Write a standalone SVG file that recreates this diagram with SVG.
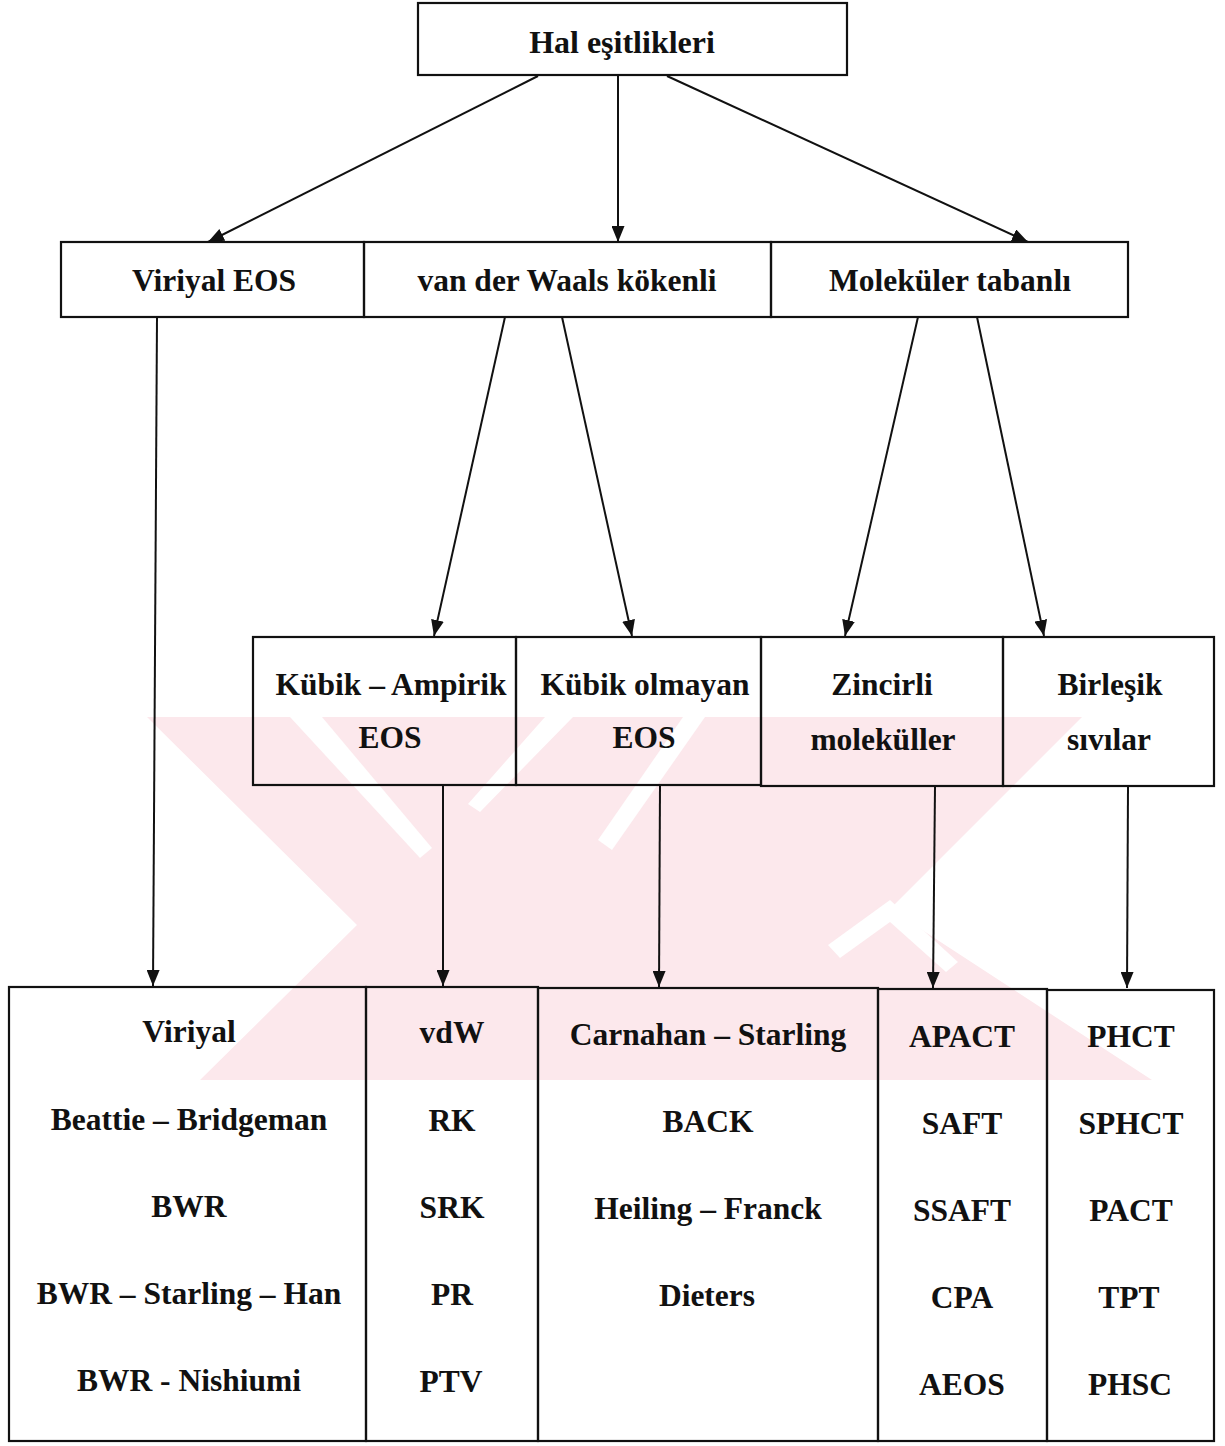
<svg xmlns="http://www.w3.org/2000/svg" width="1225" height="1446" viewBox="0 0 1225 1446">
<style>
.box{fill:none;stroke:#111;stroke-width:2.2}
.t{font-family:"Liberation Serif","Times New Roman",serif;font-weight:bold;font-size:31.5px;fill:#111;text-anchor:middle}
.c{fill:none;stroke:#111;stroke-width:2}
.wm{fill:#fce8ec}
.ws{fill:#ffffff}
</style>
<defs>
<marker id="ah" markerUnits="userSpaceOnUse" markerWidth="16" markerHeight="13" refX="16" refY="6.5" orient="auto">
<path d="M0,0 L16,6.5 L0,13 Z" fill="#111"/>
</marker>
</defs>
<rect width="1225" height="1446" fill="#ffffff"/>
<g id="watermark">
<path class="wm" d="M147,717 L1082,717 L890,909 L1152,1080 L200,1080 L357,925 Z"/>
<path class="ws" d="M290,717 L322,717 L432,848 L420,858 Z"/>
<path class="ws" d="M545,717 L573,717 L480,812 L468,804 Z"/>
<path class="ws" d="M683,717 L705,717 L612,850 L598,840 Z"/>
<path class="ws" d="M828,945 L890,900 L958,962 L946,972 L890,922 L840,958 Z"/>
</g>
<g id="connectors">
<line class="c" x1="538" y1="76" x2="208" y2="242" marker-end="url(#ah)"/>
<line class="c" x1="618" y1="76" x2="618" y2="242" marker-end="url(#ah)"/>
<line class="c" x1="667" y1="76" x2="1028" y2="242" marker-end="url(#ah)"/>
<line class="c" x1="157" y1="317" x2="153" y2="986" marker-end="url(#ah)"/>
<line class="c" x1="505" y1="317" x2="434" y2="636" marker-end="url(#ah)"/>
<line class="c" x1="562" y1="317" x2="632" y2="636" marker-end="url(#ah)"/>
<line class="c" x1="918" y1="317" x2="845" y2="636" marker-end="url(#ah)"/>
<line class="c" x1="977" y1="317" x2="1044" y2="636" marker-end="url(#ah)"/>
<line class="c" x1="443" y1="785" x2="443" y2="986" marker-end="url(#ah)"/>
<line class="c" x1="660" y1="785" x2="659" y2="987" marker-end="url(#ah)"/>
<line class="c" x1="935" y1="787" x2="933" y2="988" marker-end="url(#ah)"/>
<line class="c" x1="1128" y1="787" x2="1127" y2="988" marker-end="url(#ah)"/>
</g>
<g id="hal">
<rect class="box" x="418" y="3" width="429" height="72"/>
<text class="t" x="622" y="53" style="font-size:32px">Hal eşitlikleri</text>
</g>
<g id="viriyal-eos">
<rect class="box" x="61" y="242" width="303" height="75"/>
<text class="t" x="214" y="291">Viriyal EOS</text>
</g>
<g id="vdw-kokenli">
<rect class="box" x="364" y="242" width="407" height="75"/>
<text class="t" x="567" y="291">van der Waals kökenli</text>
</g>
<g id="molekuler">
<rect class="box" x="771" y="242" width="357" height="75"/>
<text class="t" x="950" y="291">Moleküler tabanlı</text>
</g>
<g id="kubik-ampirik">
<rect class="box" x="253" y="637" width="263" height="148"/>
<text class="t" x="391" y="695">Kübik – Ampirik</text>
<text class="t" x="390" y="748">EOS</text>
</g>
<g id="kubik-olmayan">
<rect class="box" x="516" y="637" width="245" height="148"/>
<text class="t" x="645" y="695">Kübik olmayan</text>
<text class="t" x="644" y="748">EOS</text>
</g>
<g id="zincirli">
<rect class="box" x="761" y="637" width="242" height="149"/>
<text class="t" x="882" y="695">Zincirli</text>
<text class="t" x="883" y="750">moleküller</text>
</g>
<g id="birlesik">
<rect class="box" x="1003" y="637" width="211" height="149"/>
<text class="t" x="1110" y="695">Birleşik</text>
<text class="t" x="1109" y="750">sıvılar</text>
</g>
<g id="col-viriyal">
<rect class="box" x="9" y="987" width="357" height="454"/>
<text class="t" x="189" y="1042">Viriyal</text>
<text class="t" x="189" y="1130">Beattie – Bridgeman</text>
<text class="t" x="189" y="1217">BWR</text>
<text class="t" x="189" y="1304">BWR – Starling – Han</text>
<text class="t" x="189" y="1391">BWR - Nishiumi</text>
</g>
<g id="col-kubik">
<rect class="box" x="366" y="987" width="172" height="454"/>
<text class="t" x="452" y="1043">vdW</text>
<text class="t" x="452" y="1131">RK</text>
<text class="t" x="452" y="1218">SRK</text>
<text class="t" x="452" y="1305">PR</text>
<text class="t" x="451" y="1392">PTV</text>
</g>
<g id="col-kubik-olmayan">
<rect class="box" x="538" y="988" width="340" height="453"/>
<text class="t" x="708" y="1045">Carnahan – Starling</text>
<text class="t" x="708" y="1132">BACK</text>
<text class="t" x="708" y="1219">Heiling – Franck</text>
<text class="t" x="707" y="1306">Dieters</text>
</g>
<g id="col-zincirli">
<rect class="box" x="878" y="989" width="169" height="452"/>
<text class="t" x="962" y="1047">APACT</text>
<text class="t" x="962" y="1134">SAFT</text>
<text class="t" x="962" y="1221">SSAFT</text>
<text class="t" x="962" y="1308">CPA</text>
<text class="t" x="962" y="1395">AEOS</text>
</g>
<g id="col-birlesik">
<rect class="box" x="1047" y="990" width="167" height="451"/>
<text class="t" x="1131" y="1047">PHCT</text>
<text class="t" x="1131" y="1134">SPHCT</text>
<text class="t" x="1131" y="1221">PACT</text>
<text class="t" x="1129" y="1308">TPT</text>
<text class="t" x="1130" y="1395">PHSC</text>
</g>
</svg>
